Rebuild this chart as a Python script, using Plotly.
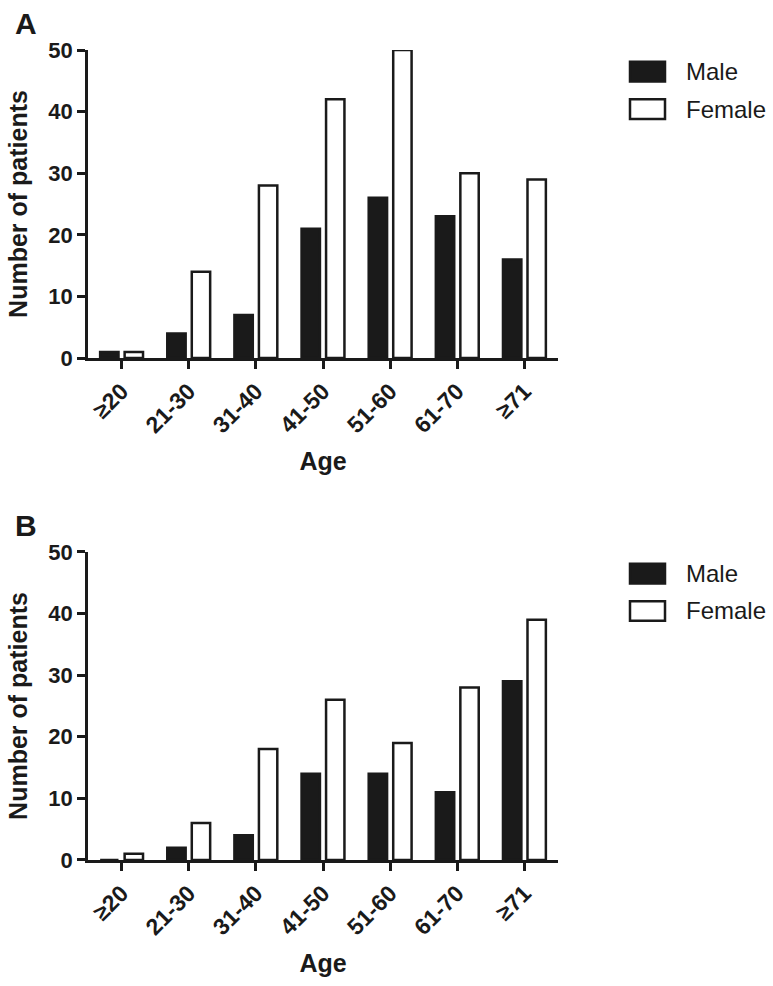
import plotly.graph_objects as go
from plotly.subplots import make_subplots

age_groups = ["≥20", "21-30", "31-40", "41-50", "51-60", "61-70", "≥71"]
male_a = [1, 4, 7, 21, 26, 23, 16]
female_a = [1, 14, 28, 42, 50, 30, 29]
male_b = [0, 2, 4, 14, 14, 11, 29]
female_b = [1, 6, 18, 26, 19, 28, 39]
y_ticks = [0, 10, 20, 30, 40, 50]

INK = "#1a1a1a"
FONT = "Liberation Sans, Arial, Helvetica, sans-serif"

W, H = 773, 986
ML, MR, MT, MB = 88, 215, 50, 113
PW = W - ML - MR
PH = H - MT - MB


def px(x):
    return (x - ML) / PW


def py(y):
    return (H - MB - y) / PH


fig = make_subplots(rows=2, cols=1, vertical_spacing=0.2394)

for row, (m, f) in enumerate([(male_a, female_a), (male_b, female_b)], start=1):
    fig.add_trace(go.Bar(x=age_groups, y=m, name="Male", showlegend=False,
                         marker=dict(color=INK, line=dict(color=INK, width=2.5))),
                  row=row, col=1)
    fig.add_trace(go.Bar(x=age_groups, y=f, name="Female", showlegend=False,
                         marker=dict(color="white", line=dict(color=INK, width=2.5))),
                  row=row, col=1)
    fig.update_xaxes(row=row, col=1, range=[-0.5, 6.5], showline=True, linecolor=INK,
                     linewidth=2.5, ticks="outside", ticklen=8, tickwidth=2.5,
                     tickcolor=INK, tickangle=-45, showgrid=False, zeroline=False,
                     tickfont=dict(family=FONT, size=23, color=INK, weight="bold"),
                     title=dict(text="<b>Age</b>", standoff=16,
                                font=dict(family=FONT, size=25, color=INK)))
    fig.update_yaxes(row=row, col=1, range=[0, 50], tickvals=y_ticks, showline=True,
                     linecolor=INK, linewidth=2.5, ticks="outside", ticklen=8,
                     tickwidth=2.5, tickcolor=INK, showgrid=False, zeroline=False,
                     tickfont=dict(family=FONT, size=22, color=INK, weight="bold"),
                     title=dict(text="<b>Number of patients</b>", standoff=14,
                                font=dict(family=FONT, size=25, color=INK)))

fig.update_layout(barmode="group", bargap=0.27, bargroupgap=0.25)

fig.update_yaxes(domain=[0.6197, 1.0], row=1, col=1)
fig.update_yaxes(domain=[0.0, 0.3803], row=2, col=1)

shapes = []
annotations = []
for top, label in [(50, "A"), (560, "B")]:
    annotations.append(dict(x=px(26), y=py(top - 27), xref="paper", yref="paper",
                            text=f"<b>{label}</b>", showarrow=False,
                            xanchor="center", yanchor="middle",
                            font=dict(family=FONT, size=30, color=INK)))
    for i, (name, fill) in enumerate([("Male", INK), ("Female", "white")]):
        cy = top + 22 + i * 38
        shapes.append(dict(type="rect", xref="paper", yref="paper",
                           x0=px(630), x1=px(665), y0=py(cy - 10), y1=py(cy + 10),
                           fillcolor=fill, line=dict(color=INK, width=2.5)))
        annotations.append(dict(x=px(684), y=py(cy), xref="paper", yref="paper",
                                text=name, showarrow=False, xanchor="left",
                                yanchor="middle",
                                font=dict(family=FONT, size=24, color=INK)))

fig.update_layout(width=W, height=H, margin=dict(l=ML, r=MR, t=MT, b=MB),
                  plot_bgcolor="white", paper_bgcolor="white",
                  shapes=shapes, annotations=annotations, showlegend=False,
                  font=dict(family=FONT, color=INK))

fig.write_html("out.html", config={"displayModeBar": False},
               post_script="document.body.style.margin='0';"
                           "document.body.style.overflow='hidden';")
